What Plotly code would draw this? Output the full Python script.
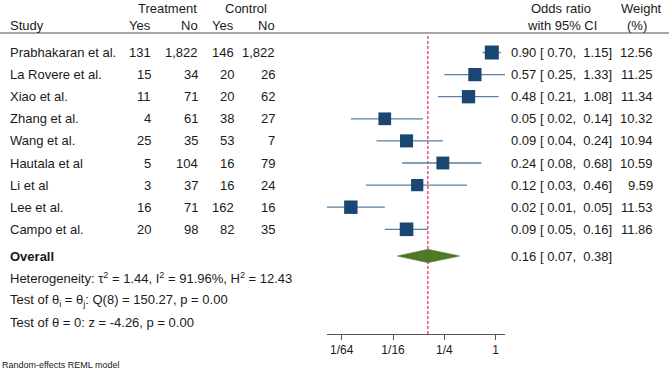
import math
import plotly.graph_objects as go

studies = ["Prabhakaran et al.", "La Rovere et al.", "Xiao et al.", "Zhang et al.", "Wang et al.",
           "Hautala et al", "Li et al", "Lee et al.", "Campo et al."]
treat_yes = ["131", "15", "11", "4", "25", "5", "3", "16", "20"]
treat_no = ["1,822", "34", "71", "61", "35", "104", "37", "71", "98"]
ctrl_yes = ["146", "20", "20", "38", "53", "16", "16", "162", "82"]
ctrl_no = ["1,822", "26", "62", "27", "7", "79", "24", "16", "35"]
odds = [0.90, 0.57, 0.48, 0.05, 0.09, 0.24, 0.12, 0.02, 0.09]
ci_lo = [0.70, 0.25, 0.21, 0.02, 0.04, 0.08, 0.03, 0.01, 0.05]
ci_hi = [1.15, 1.33, 1.08, 0.14, 0.24, 0.68, 0.46, 0.05, 0.16]
weights = [12.56, 11.25, 11.34, 10.32, 10.94, 10.59, 9.59, 11.53, 11.86]
overall = 0.16
overall_lo = 0.07
overall_hi = 0.38
tick_vals = [1/64, 1/16, 1/4, 1]
tick_text = ["1/64", "1/16", "1/4", "1"]

W, H = 669, 372
ROW0_PX = 52.5
ROW_PX = 22.1

def row_of(px):
    return (px - ROW0_PX) / ROW_PX

def xp(px):
    return px / W

FONT = "Liberation Sans, Arial, sans-serif"
FS = 13
NAVY = "#1a4672"
CI_COL = "#5b7fa6"
GREEN = "#4e7a28"
RED = "#e0245e"

rows = list(range(len(studies)))
overall_row = row_of(256)

fig = go.Figure()

# CI lines
for i in rows:
    fig.add_trace(go.Scatter(x=[ci_lo[i], ci_hi[i]], y=[i, i], mode="lines",
                             line=dict(color=CI_COL, width=1.3), hoverinfo="skip", showlegend=False))

# squares
sizes = [14 * math.sqrt(w / 12.56) for w in weights]
fig.add_trace(go.Scatter(x=odds, y=rows, mode="markers", opacity=1,
                         marker=dict(symbol="square", size=sizes, color=NAVY, opacity=1,
                                     line=dict(color=NAVY, width=0)),
                         showlegend=False, hoverinfo="skip"))

# diamond
hh = 6.7 / ROW_PX
fig.add_trace(go.Scatter(x=[overall_lo, overall, overall_hi, overall, overall_lo],
                         y=[overall_row, overall_row - hh, overall_row, overall_row + hh, overall_row],
                         mode="lines", fill="toself", fillcolor=GREEN,
                         line=dict(color=GREEN, width=0.5), showlegend=False, hoverinfo="skip"))

# dashed overall line
fig.add_shape(type="line", xref="x", yref="paper", x0=overall, x1=overall,
              y0=(H - 334) / H, y1=(H - 34) / H,
              line=dict(color=RED, width=1.2, dash="3px,2px"), layer="below")

# header line
fig.add_shape(type="line", xref="paper", yref="paper", x0=0, x1=1,
              y0=(H - 33) / H, y1=(H - 33) / H, line=dict(color="#888888", width=1.5))

ann = []

def txt(x_px, y_row, text, anchor="left", size=FS):
    ann.append(dict(x=xp(x_px), y=y_row, xref="paper", yref="y", text=text, showarrow=False,
                    xanchor=anchor, yanchor="middle", font=dict(family=FONT, size=size, color="#1a1a1a")))

# headers
r1 = row_of(8)
r2 = row_of(25)
txt(167, r1, "Treatment", "center")
txt(246, r1, "Control", "center")
txt(8, r2, "Study")
txt(153, r2, "Yes", "right")
txt(200, r2, "No", "right")
txt(236, r2, "Yes", "right")
txt(277, r2, "No", "right")
txt(561, r1, "Odds ratio", "center")
txt(562, r2, "with 95% CI", "center")
txt(641, r1, "Weight", "center")
txt(637, r2, "(%)", "center")

def fmt_ci(o, lo, hi):
    return f"{o:.2f} [ {lo:.2f},  {hi:.2f}]".replace("  ", "&nbsp; ")

for i in rows:
    txt(8, i, studies[i])
    txt(153, i, treat_yes[i], "right")
    txt(200, i, treat_no[i], "right")
    txt(236, i, ctrl_yes[i], "right")
    txt(277, i, ctrl_no[i], "right")
    txt(509, i, fmt_ci(odds[i], ci_lo[i], ci_hi[i]))
    txt(655, i, f"{weights[i]:.2f}", "right")

txt(8, overall_row, "<b>Overall</b>")
txt(509, overall_row, fmt_ci(overall, overall_lo, overall_hi))
txt(8, row_of(278), "Heterogeneity: τ<sup>2</sup> = 1.44, I<sup>2</sup> = 91.96%, H<sup>2</sup> = 12.43")
txt(8, row_of(300), "Test of θ<sub>i</sub> = θ<sub>j</sub>: Q(8) = 150.27, p = 0.00")
txt(8, row_of(322), "Test of θ = 0: z = -4.26, p = 0.00")
txt(0, row_of(365), "Random-effects REML model", "left", 9)

fig.update_layout(annotations=ann)

lo_l2, hi_l2 = -6.573, 0.362
fig.update_layout(
    width=W, height=H, margin=dict(l=0, r=0, t=0, b=0),
    paper_bgcolor="white", plot_bgcolor="rgba(0,0,0,0)",
    xaxis=dict(type="log", range=[lo_l2 * math.log10(2), hi_l2 * math.log10(2)],
               domain=[327 / W, 505 / W], anchor="free", position=(H - 334) / H,
               showline=True, linecolor="#555555", linewidth=1, showgrid=False, zeroline=False,
               tickvals=tick_vals, ticktext=tick_text, ticks="outside", ticklen=5,
               tickcolor="#555555", tickfont=dict(family=FONT, size=12, color="#1a1a1a")),
    yaxis=dict(range=[row_of(H), row_of(0)], domain=[0, 1], visible=False, showgrid=False),
    showlegend=False,
)

fig.write_html("out.html", config={"displayModeBar": False},
               post_script="document.body.style.margin='0';document.body.style.overflow='hidden';")
